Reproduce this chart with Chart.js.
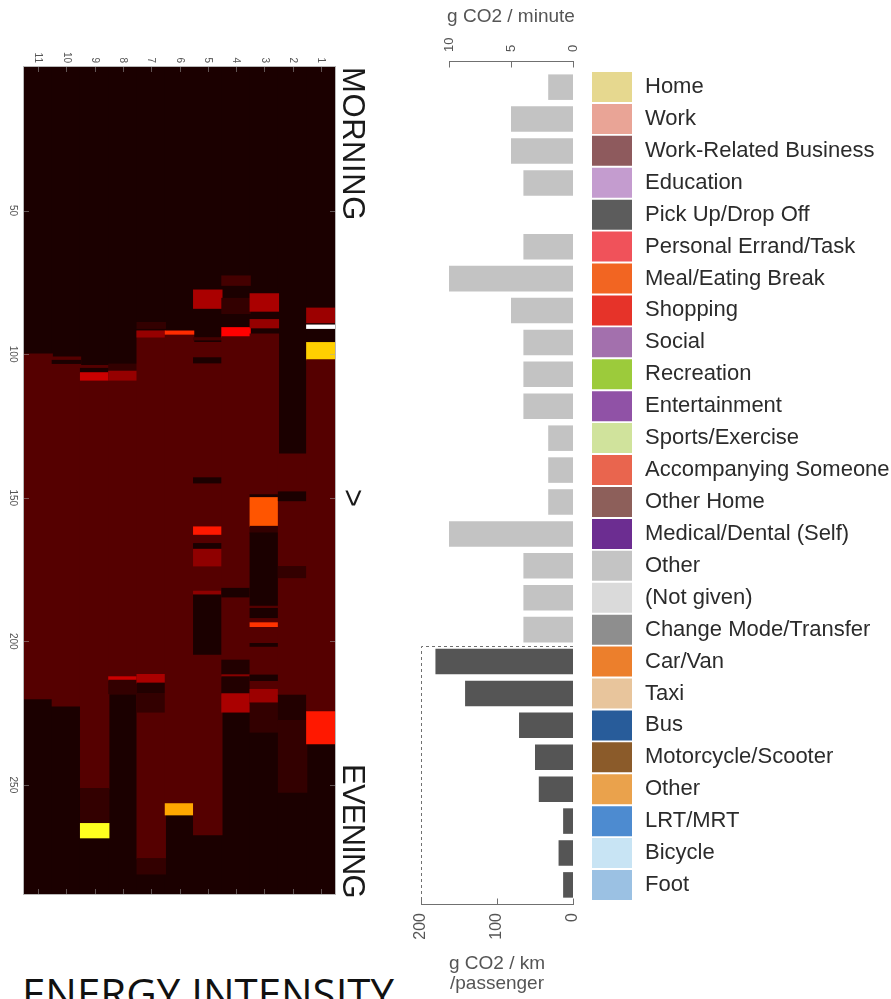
<!DOCTYPE html>
<html>
<head>
<meta charset="utf-8">
<script src="https://cdn.jsdelivr.net/npm/chart.js@4.4.1/dist/chart.umd.min.js"></script>
<style>
  html, body { margin: 0; padding: 0; background: #fff; }
  #page { position: relative; width: 891px; height: 999px; overflow: hidden; font-family: "Liberation Sans", Arial, sans-serif; }
  canvas { position: absolute; }
  .side { position: absolute; transform-origin: 0 0; transform: rotate(90deg); font-size: 31px; line-height: 31px; color: #1a1a1a; white-space: nowrap; }
  #caption { position: absolute; left: 22px; top: 972px; font-family: "Open Sans", sans-serif; font-size: 42px; line-height: 42px; color: #111; white-space: nowrap; }
</style>
</head>
<body>
<div id="page">
  <canvas id="heat" style="left:0;top:0" width="340" height="910"></canvas>
  <canvas id="bars" style="left:400px;top:0" width="180" height="999"></canvas>
  <canvas id="keys" style="left:592px;top:0" width="299" height="999"></canvas>
  <div class="side" style="left:369px;top:67px;letter-spacing:0.6px">MORNING</div>
  <div class="side" style="left:369px;top:489px">&gt;</div>
  <div class="side" style="left:369px;top:764px;letter-spacing:-0.8px">EVENING</div>
  <div id="caption">ENERGY INTENSITY</div>
</div>
<script>
// heatmap: people (columns) and time of day in 5 minute steps
const people = ['11', '10', '9', '8', '7', '6', '5', '4', '3', '2', '1'];
const timeTicks = [50, 100, 150, 200, 250];
const dayEnd = 288;
const restLevel = 0.04;
const M = 0.125; // usual level during the day

// [person, from, to, intensity 0..1]
const cells = [
  ['11', 100, 220, M],
  ['10', 101, 222.5, M], ['10', 102.2, 103.2, restLevel],
  ['9', 104, 251.3, M], ['9', 105, 106.5, restLevel], ['9', 106.5, 109, 0.3], ['9', 251.3, 263.5, 0.075], ['9', 263.5, 268.4, 0.78],
  ['8', 103.5, 106, 0.075], ['8', 106, 218.2, M], ['8', 106, 109, 0.22], ['8', 212.4, 213.6, 0.3], ['8', 213.6, 218.2, 0.075],
  ['7', 89, 91, 0.075], ['7', 92, 275.7, M], ['7', 92, 94, 0.22], ['7', 211.6, 214.6, 0.25], ['7', 214.6, 218.2, 0.05],
  ['7', 218.2, 224.6, 0.075], ['7', 275.7, 281, 0.075],
  ['6', 92, 256.6, M], ['6', 92, 93, 0.44], ['6', 256.6, 260.4, 0.62],
  ['5', 77.7, 84, 0.25], ['5', 94.3, 95, 0.1], ['5', 96, 267.3, M], ['5', 101.3, 103, restLevel], ['5', 143.1, 144.8, restLevel],
  ['5', 160.2, 162.7, 0.41], ['5', 166, 167.7, restLevel], ['5', 168, 173.7, 0.21], ['5', 182.6, 183.4, 0.21], ['5', 184, 204.5, restLevel],
  ['4', 72.8, 76, 0.1], ['4', 80.6, 85.8, 0.075], ['4', 90.8, 94, 0.375], ['4', 94, 206.6, M], ['4', 181.6, 184.5, restLevel],
  ['4', 206.6, 211.7, 0.05], ['4', 211.7, 212.4, 0.2], ['4', 212.4, 218.3, 0.05], ['4', 218.3, 224.6, 0.25],
  ['3', 79, 85, 0.25], ['3', 88, 90.8, 0.22], ['3', 93, 221.5, M], ['3', 149, 150, restLevel], ['3', 150, 160, 0.5],
  ['3', 160, 162.3, 0.075], ['3', 162.3, 187.4, restLevel], ['3', 188.6, 191.7, restLevel], ['3', 193.6, 194.8, 0.45],
  ['3', 200.8, 201.7, restLevel], ['3', 211.8, 213.6, restLevel], ['3', 216.8, 221.5, 0.23], ['3', 221.5, 231.6, 0.075],
  ['2', 134.8, 218.8, M], ['2', 148, 151, restLevel], ['2', 174, 177.8, 0.075], ['2', 218.8, 227.6, 0.05], ['2', 227.6, 252.5, 0.075],
  ['1', 84, 89, 0.23], ['1', 89.9, 91, 1], ['1', 96, 102, 0.68], ['1', 102, 224.6, M], ['1', 224.6, 235.6, 0.41]
];

// bar chart + key
const activities = ['Home', 'Work', 'Work-Related Business', 'Education', 'Pick Up/Drop Off', 'Personal Errand/Task',
  'Meal/Eating Break', 'Shopping', 'Social', 'Recreation', 'Entertainment', 'Sports/Exercise', 'Accompanying Someone',
  'Other Home', 'Medical/Dental (Self)', 'Other', '(Not given)', 'Change Mode/Transfer', 'Car/Van', 'Taxi', 'Bus',
  'Motorcycle/Scooter', 'Other', 'LRT/MRT', 'Bicycle', 'Foot'];
const activityColors = ['#e6d88f', '#e9a496', '#8e5a5d', '#c49ccf', '#5c5c5c', '#f0525a', '#f26522', '#e63329',
  '#a370ad', '#9ccb3b', '#9052a6', '#d0e39c', '#e9654e', '#8d5f5a', '#6c2d91', '#c4c4c4', '#dadada', '#8e8e8e',
  '#ec7f2c', '#e8c59c', '#285c9a', '#8b5b2a', '#eaa24c', '#4d8bd0', '#c8e4f4', '#9bc1e3'];
const perMinute = [2, 5, 5, 4, 0, 4, 10, 5, 4, 4, 4, 2, 2, 2, 10, 4, 4, 4];
const perKm = [181, 142, 71, 50, 45, 13, 19, 13];
const minuteTicks = [0, 5, 10];
const kmTicks = [0, 100, 200];

Chart.defaults.font.family = '"Liberation Sans", Arial, sans-serif';

function hot(v) {
  const r = Math.min(1, v / 0.375);
  const g = Math.min(1, Math.max(0, (v - 0.375) / 0.375));
  const b = Math.min(1, Math.max(0, (v - 0.75) / 0.25));
  return 'rgb(' + Math.round(r * 255) + ',' + Math.round(g * 255) + ',' + Math.round(b * 255) + ')';
}

const heatPoints = people.map(p => ({ x: p, y: [0, dayEnd], v: restLevel }))
  .concat(cells.map(c => ({ x: c[0], y: [c[1], c[2]], v: c[3] })));

const heatAxes = {
  id: 'heatAxes',
  afterDatasetsDraw(chart) {
    const { ctx, chartArea: a, scales: { x, y } } = chart;
    ctx.save();
    ctx.strokeStyle = 'rgba(170,170,170,0.5)';
    ctx.lineWidth = 1;
    ctx.beginPath();
    people.forEach((p, i) => {
      const px = Math.round(x.getPixelForValue(i)) + 0.5;
      ctx.moveTo(px, a.top); ctx.lineTo(px, a.top + 5);
      ctx.moveTo(px, a.bottom); ctx.lineTo(px, a.bottom - 5);
    });
    timeTicks.forEach(t => {
      const py = Math.round(y.getPixelForValue(t)) + 0.5;
      ctx.moveTo(a.left, py); ctx.lineTo(a.left + 5, py);
      ctx.moveTo(a.right, py); ctx.lineTo(a.right - 5, py);
    });
    ctx.stroke();
    ctx.strokeStyle = '#b8b8b8';
    ctx.strokeRect(Math.round(a.left) - 0.5, Math.round(a.top) - 0.5, Math.round(a.right - a.left) + 1, Math.round(a.bottom - a.top) + 1);

    ctx.fillStyle = '#555';
    ctx.font = '10px "Liberation Sans", Arial, sans-serif';
    people.forEach((p, i) => {
      ctx.save();
      ctx.translate(x.getPixelForValue(i), a.top - 4);
      ctx.rotate(Math.PI / 2);
      ctx.textAlign = 'right';
      ctx.textBaseline = 'middle';
      ctx.fillText(p, 0, 0);
      ctx.restore();
    });
    timeTicks.forEach(t => {
      ctx.save();
      ctx.translate(13, y.getPixelForValue(t));
      ctx.rotate(Math.PI / 2);
      ctx.textAlign = 'center';
      ctx.textBaseline = 'middle';
      ctx.fillText(String(t), 0, 0);
      ctx.restore();
    });
    ctx.restore();
  }
};

new Chart(document.getElementById('heat'), {
  type: 'bar',
  data: {
    labels: people,
    datasets: [{
      data: heatPoints,
      backgroundColor: heatPoints.map(p => hot(p.v)),
      borderWidth: 0,
      borderSkipped: false,
      inflateAmount: 0.6,
      barPercentage: 1,
      categoryPercentage: 1
    }]
  },
  options: {
    responsive: false,
    animation: false,
    layout: { padding: { left: 24, top: 67, right: 5, bottom: 16 } },
    plugins: { legend: { display: false }, tooltip: { enabled: false } },
    scales: {
      x: { type: 'category', display: false },
      y: { type: 'linear', min: 0, max: dayEnd, reverse: true, display: false }
    }
  },
  plugins: [heatAxes]
});

const barAxes = {
  id: 'barAxes',
  afterDatasetsDraw(chart) {
    const { ctx, chartArea: a, scales: { xMin, xKm, y } } = chart;
    ctx.save();
    ctx.strokeStyle = '#707070';
    ctx.lineWidth = 1;
    const top = Math.round(a.top) + 0.5;
    const bot = Math.round(a.bottom) - 0.5;
    ctx.beginPath();
    ctx.moveTo(Math.round(xMin.getPixelForValue(10)), top);
    ctx.lineTo(Math.round(xMin.getPixelForValue(0)) + 1, top);
    minuteTicks.forEach(v => {
      const px = Math.round(xMin.getPixelForValue(v)) + 0.5;
      ctx.moveTo(px, top); ctx.lineTo(px, top + 6);
    });
    ctx.moveTo(Math.round(xKm.getPixelForValue(200)), bot);
    ctx.lineTo(Math.round(xKm.getPixelForValue(0)) + 1, bot);
    kmTicks.forEach(v => {
      const px = Math.round(xKm.getPixelForValue(v)) + 0.5;
      ctx.moveTo(px, bot); ctx.lineTo(px, bot - 6);
    });
    ctx.stroke();
    // dashed frame round the transport modes
    const split = Math.round(y.getPixelForValue(perMinute.length - 0.5)) + 0.5;
    const left = Math.round(xKm.getPixelForValue(200)) + 0.5;
    ctx.setLineDash([3, 3]);
    ctx.beginPath();
    ctx.moveTo(Math.round(xKm.getPixelForValue(0)), split);
    ctx.lineTo(left, split);
    ctx.lineTo(left, bot);
    ctx.stroke();
    ctx.setLineDash([]);
    // title of the per-minute axis, centred over its 0..10 span
    ctx.fillStyle = '#555';
    ctx.font = '19px "Liberation Sans", Arial, sans-serif';
    ctx.textAlign = 'center';
    ctx.textBaseline = 'middle';
    ctx.fillText('g CO2 / minute', (xMin.getPixelForValue(10) + xMin.getPixelForValue(0)) / 2, 17);
    ctx.restore();
  }
};

new Chart(document.getElementById('bars'), {
  type: 'bar',
  data: {
    datasets: [{
      data: perMinute.map((v, i) => ({ x: v, y: i })),
      xAxisID: 'xMin',
      backgroundColor: '#c3c3c3',
      grouped: false
    }, {
      data: perKm.map((v, i) => ({ x: v, y: perMinute.length + i })),
      xAxisID: 'xKm',
      backgroundColor: '#555555',
      grouped: false
    }]
  },
  options: {
    indexAxis: 'y',
    responsive: false,
    animation: false,
    layout: { padding: { left: 21, right: 7, top: 0, bottom: 0 } },
    datasets: { bar: { barPercentage: 0.8, categoryPercentage: 1, borderWidth: 0 } },
    plugins: { legend: { display: false }, tooltip: { enabled: false } },
    scales: {
      y: {
        type: 'linear', min: -0.82, max: 25.63, reverse: true, offset: false, display: false,
        afterBuildTicks: s => { s.ticks = activities.map((a, i) => ({ value: i })); }
      },
      xMin: {
        type: 'linear', position: 'top', reverse: true, min: 0, max: 12.26,
        afterBuildTicks: s => { s.ticks = minuteTicks.map(v => ({ value: v })); },
        afterFit: s => { s.height = 61; },
        grid: { display: false, drawTicks: false },
        border: { display: false },
        ticks: { autoSkip: false, minRotation: 90, maxRotation: 90, padding: 9, labelOffset: 16, color: '#555', font: { size: 13 } }
      },
      xKm: {
        type: 'linear', position: 'bottom', reverse: true, min: 0, max: 200,
        afterBuildTicks: s => { s.ticks = kmTicks.map(v => ({ value: v })); },
        afterFit: s => { s.height = 94; },
        grid: { display: false, drawTicks: false },
        border: { display: false },
        ticks: { autoSkip: false, minRotation: 90, maxRotation: 90, padding: 8, color: '#555', font: { size: 16 } },
        title: { display: true, text: ['g CO2 / km', '/passenger'], color: '#555', font: { size: 19, lineHeight: 1.05 }, padding: { top: 0, bottom: 5 } }
      }
    }
  },
  plugins: [barAxes]
});

new Chart(document.getElementById('keys'), {
  type: 'bar',
  data: {
    labels: activities,
    datasets: [{
      data: activities.map(() => 1),
      backgroundColor: activityColors,
      borderWidth: 0,
      barPercentage: 0.94,
      categoryPercentage: 1
    }]
  },
  options: {
    indexAxis: 'y',
    responsive: false,
    animation: false,
    layout: { padding: { top: 71, bottom: 98, left: 0, right: 0 } },
    plugins: { legend: { display: false }, tooltip: { enabled: false } },
    scales: {
      x: { display: false, min: 0, max: 1 },
      y: {
        position: 'right',
        afterFit: s => { s.width = 259; },
        grid: { display: false, drawTicks: false },
        border: { display: false },
        ticks: { padding: 13, color: '#2b2b2b', font: { size: 22 } }
      }
    }
  }
});
</script>
</body>
</html>
